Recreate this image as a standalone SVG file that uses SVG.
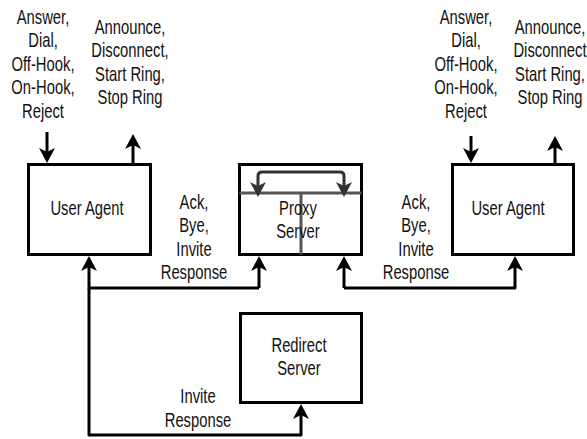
<svg xmlns="http://www.w3.org/2000/svg" width="587" height="439" viewBox="0 0 587 439">
<style>
  .box { fill: #fff; stroke: #000; stroke-width: 3; }
  .lbl { font-family: "Liberation Sans", Arial, sans-serif; font-size: 20px; fill: #111; text-anchor: middle; }
  .wire { fill: none; stroke: #000; stroke-width: 3; stroke-linejoin: round; }
  .inner { fill: none; stroke: #555; stroke-width: 3; }
  .bracket { fill: none; stroke: #333; stroke-width: 3; stroke-linejoin: round; }
</style>
<defs>
  <marker id="ah" viewBox="-18 -10 20 20" refX="-4" refY="0" markerWidth="20" markerHeight="20" markerUnits="userSpaceOnUse" orient="auto">
    <path d="M0,0 L-15,-8 L-11,0 L-15,8 Z" fill="#000"/>
  </marker>
  <marker id="ahg" viewBox="-18 -10 20 20" refX="-4" refY="0" markerWidth="20" markerHeight="20" markerUnits="userSpaceOnUse" orient="auto">
    <path d="M0,0 L-15,-8 L-11,0 L-15,8 Z" fill="#333"/>
  </marker>
</defs>
<rect width="587" height="439" fill="#fff"/>

<g id="connectors">
  <path class="wire" d="M47,132 V159" marker-end="url(#ah)"/>
  <path class="wire" d="M133,163 V138" marker-end="url(#ah)"/>
  <path class="wire" d="M471,136 V159" marker-end="url(#ah)"/>
  <path class="wire" d="M555,163 V140" marker-end="url(#ah)"/>
  <path class="wire" d="M259,288 V260" marker-end="url(#ah)"/>
  <path class="wire" d="M259,288 H89 V260" marker-end="url(#ah)"/>
  <path class="wire" d="M89,288 V435 H301 V408" marker-end="url(#ah)"/>
  <path class="wire" d="M344,288 V260" marker-end="url(#ah)"/>
  <path class="wire" d="M344,288 H515 V260" marker-end="url(#ah)"/>
</g>

<g id="ua-left">
  <rect class="box" x="28.5" y="164.5" width="122" height="90"/>
  <text class="lbl" transform="translate(87,215) scale(0.74 1)">User Agent</text>
</g>

<g id="proxy">
  <rect class="box" x="239.5" y="164.5" width="122" height="90"/>
  <path class="inner" d="M239.5,193 H361.5 M301,193 V254.5"/>
  <path class="bracket" d="M301,172 H262 Q258,172 258,176 V193" marker-end="url(#ahg)"/>
  <path class="bracket" d="M301,172 H340 Q344,172 344,176 V193" marker-end="url(#ahg)"/>
  <g transform="translate(298,0) scale(0.74 1)">
    <text class="lbl" x="0" y="215">Proxy</text>
    <text class="lbl" x="0" y="238">Server</text>
  </g>
</g>

<g id="ua-right">
  <rect class="box" x="452.5" y="164.5" width="121" height="90"/>
  <text class="lbl" transform="translate(508,215) scale(0.74 1)">User Agent</text>
</g>

<g id="redirect">
  <rect class="box" x="240.5" y="313.5" width="121" height="89"/>
  <g transform="translate(299,0) scale(0.74 1)">
    <text class="lbl" x="0" y="352">Redirect</text>
    <text class="lbl" x="0" y="375">Server</text>
  </g>
</g>

<g id="labels">
  <g transform="translate(43,0) scale(0.74 1)">
    <text class="lbl" x="0" y="24">Answer,</text>
    <text class="lbl" x="0" y="47.5">Dial,</text>
    <text class="lbl" x="0" y="71">Off-Hook,</text>
    <text class="lbl" x="0" y="94.5">On-Hook,</text>
    <text class="lbl" x="0" y="118">Reject</text>
  </g>
  <g transform="translate(130,0) scale(0.74 1)">
    <text class="lbl" x="0" y="34">Announce,</text>
    <text class="lbl" x="0" y="57.5">Disconnect,</text>
    <text class="lbl" x="0" y="81">Start Ring,</text>
    <text class="lbl" x="0" y="104.5">Stop Ring</text>
  </g>
  <g transform="translate(466,0) scale(0.74 1)">
    <text class="lbl" x="0" y="24">Answer,</text>
    <text class="lbl" x="0" y="47.5">Dial,</text>
    <text class="lbl" x="0" y="71">Off-Hook,</text>
    <text class="lbl" x="0" y="94.5">On-Hook,</text>
    <text class="lbl" x="0" y="118">Reject</text>
  </g>
  <g transform="translate(550,0) scale(0.74 1)">
    <text class="lbl" x="0" y="34">Announce,</text>
    <text class="lbl" x="0" y="57.5">Disconnect</text>
    <text class="lbl" x="0" y="81">Start Ring,</text>
    <text class="lbl" x="0" y="104.5">Stop Ring</text>
  </g>
  <g transform="translate(194,0) scale(0.74 1)">
    <text class="lbl" x="0" y="209">Ack,</text>
    <text class="lbl" x="0" y="232.5">Bye,</text>
    <text class="lbl" x="0" y="256">Invite</text>
    <text class="lbl" x="0" y="279.5">Response</text>
  </g>
  <g transform="translate(416,0) scale(0.74 1)">
    <text class="lbl" x="0" y="209">Ack,</text>
    <text class="lbl" x="0" y="232.5">Bye,</text>
    <text class="lbl" x="0" y="256">Invite</text>
    <text class="lbl" x="0" y="279.5">Response</text>
  </g>
  <g transform="translate(198,0) scale(0.74 1)">
    <text class="lbl" x="0" y="403">Invite</text>
    <text class="lbl" x="0" y="427">Response</text>
  </g>
</g>
</svg>
